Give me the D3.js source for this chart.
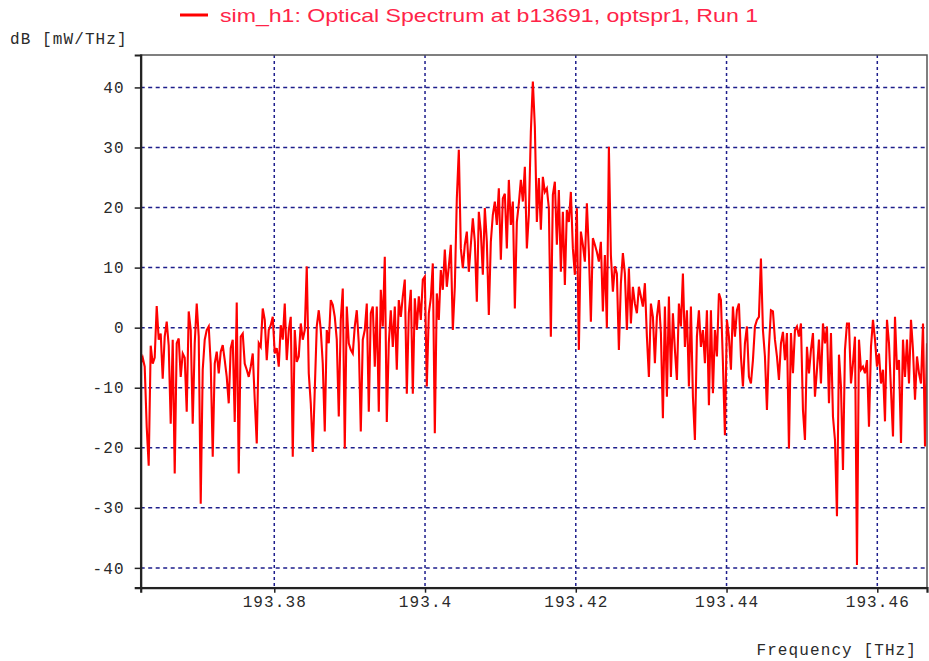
<!DOCTYPE html>
<html>
<head>
<meta charset="utf-8">
<script src="https://cdn.jsdelivr.net/npm/d3@7/dist/d3.min.js"></script>
<style>
  html, body { margin: 0; padding: 0; background: #ffffff; }
  svg { display: block; }
  .tick-label { font-family: "Liberation Mono", "DejaVu Sans Mono", monospace; font-size: 16px; letter-spacing: 1.1px; fill: #2a2a2a; }
</style>
</head>
<body>
<svg id="chart" width="929" height="661"></svg>
<script>
// Spectrum sampling grid (THz): first bin and bin spacing
const freqStart = 193.36228;
const freqStep = 0.00026543;

// Power spectral density per bin, dB [mW/THz]
const powerDb = [
  -6, -5, -6.5, -16.5, -23, -3, -6, -5, 3.6, -2,
  -1, -8.5, -1.5, 1, -3, -16, -2, -24.3, -2.6, -1.8,
  -8.2, -4.3, -5, -14, 2.7, -0.4, -16, -2.6, 4, -1.5,
  -29.3, -7, -2, -0.4, 0.2, -6, -21.5, -6, -4, -7.6,
  -4, -2.9, -5.4, -8.2, -12.6, -3.4, -2, -15.7, 4.2, -24.3,
  -1.5, -1, -6, -7, -8.2, -6.5, -4.3, -12, -19.3, -2.6,
  -3.2, 3.2, 1.3, -5.4, -0.4, 0.4, 1.8, -4.3, -3.4, -6.5,
  0.4, -2, 4, -5.4, -0.4, 1.8, -21.5, -0.4, -5.7,
  -4.8, 0.7, -2, -0.4, 10.2, -7.6, -12.6, -20.7, -10.4, 0.2,
  2.9, -0.4, -6, -17.3, -0.4, -2.6, 4.6, 3.8, 1.8, -2,
  -14.8, 1.3, 6.5, -20.1, 3.5, -2.6, -3.7, -4.3, 0.2, 2.9,
  -2.6, -17.3, -2, -0.4, 4, -14, 2.4, 3.5, -6.5, 3.5,
  -14, 6.3, 0.2, 11.8, -15.7, -2.6, 2.9, -3.2, 3.5, -7,
  4.6, 1.8, 5.2, 8, -11, 2.4, 6.3, -11, 4.9, -0.4,
  5.2, 1.3, 8, 8.5, -9.8, 2.4, 4.9, 10.7, -17.6, 5.7,
  1.3, 9.6, 6.3, 13, 6.8, 10.2, 13.8, -0.4, 6.8,
  21.5, 29.6, 13.2, 9.9, 13.8, 16, 9.3, 13.8, 18.2, 14.3,
  4.3, 19.3, 16, 8.8, 19.9, 14.3, 2.1, 14.3, 18.8, 21,
  17.1, 23.2, 11.3, 21.5, 22.3, 13.2, 24.6, 17.1, 21, 3.2,
  17.6, 20.7, 24.6, 21, 26.8, 13.2, 18.8, 32.6, 41, 33.4,
  17.6, 24.9, 16.3, 25.1, 22.6, 23.2, 19.9, -1.5, 22.1, 24.3,
  13.8, 22.9, 9.3, 19.3, 7.1, 19.6, 17.6, 22.6, 13.2, 8.8,
  19.9, -3.7, 16, 13.8, 11, 20.7, 12.6, 1, 14.9, 13.8,
  12.6, 11, 14.3, 2.7, 12.1, 0, 30.1, 12.1, 6,
  10.2, 9, -3.7, 7.4, 12.4, 9, -0.4, 9.9, 0.7, 6.8,
  4, 2.4, 6.8, 5.2, 3.5, 7.4, -1.5, -8.2, 4, 1.8,
  -5.9, 1.8, 4.6, -0.9, -15.1, 3.5, -11.5, 5.2, -8.2, 2.4,
  -3.7, -8.7, 4, 0.2, 9, -3.2, 2.9, -9.8, 3.5, -11.5,
  -18.7, -1.5, 2.9, -3.2, -0.4, -5.9, 2.9, -12.9, 2.9, -10.9,
  -0.4, -4.8, 5.7, 4.6, -5.9, -17.9, 1.3, -1.5, -7, 3.5,
  -1.5, 2.9, 4, -4.8, -9.8, -2.6, 0.2, -8.2, -9.3, -5.4,
  0.2, 1.3, 1.8, 11.5, -0.4, -4.8, -13.7, -3.2, 2.9,
  2.7, -2, -4.8, -8.7, -2.6, -0.7, -5.4, -0.9, -20.1, -0.9,
  -7.6, -0.4, 0.2, -1.5, 0.7, -13.7, -18.7, -3.2, -7.6, -3.7,
  -0.9, -11.5, -7, -2, -9.3, 0.7, -2.6, 0.2, -12.6, -0.9,
  -14.8, -18.7, -31.4, -4.5, -9.8, -23.7, -3.7, 0.7, 0.7, -9.3,
  -5.9, -1.5, -39.5, -2, -7, -6.5, -7.6, -5.4, -16.5, -3.2,
  1.3, -2, -6.5, -4.3, -9.3, -7, -15.6, 1.3, -2.6, -10.4,
  -18.1, 1.8, -7, -5.4, -19.2, -2, -8.2, -2, -9.3, 1.3,
  -3.7, -12, -4.8, -7.6, -9.3, 0.7, -19.8, -2.6
];

// Axis ticks
const freqTicks = [193.38, 193.40, 193.42, 193.44, 193.46];
const dbTicks = [-40, -30, -20, -10, 0, 10, 20, 30, 40];

const titleText = "sim_h1: Optical Spectrum at b13691, optspr1, Run 1";
const yAxisTitle = "dB [mW/THz]";
const xAxisTitle = "Frequency [THz]";

const plot = { left: 140.7, right: 927, top: 55, bottom: 587.7 };
const gridColor = "#1e1e8c";

const svg = d3.select("#chart");

const points = powerDb.map((v, i) => ({ f: freqStart + i * freqStep, v }));

const x = d3.scaleLinear()
  .domain([freqStart, freqStart + (powerDb.length - 1) * freqStep])
  .range([plot.left, plot.right]);
const y = d3.scaleLinear()
  .domain([-43.3, 45.4])
  .range([plot.bottom, plot.top]);

svg.append("defs").append("clipPath").attr("id", "plot-clip")
  .append("rect")
  .attr("x", plot.left).attr("y", plot.top)
  .attr("width", plot.right - plot.left).attr("height", plot.bottom - plot.top);

// Grid
const grid = svg.append("g");
grid.selectAll("line.h").data(dbTicks).join("line")
  .attr("x1", plot.left).attr("x2", plot.right)
  .attr("y1", d => y(d)).attr("y2", d => y(d))
  .attr("stroke", gridColor).attr("stroke-width", 1.5)
  .attr("stroke-dasharray", "4,3.5");
grid.selectAll("line.v").data(freqTicks).join("line")
  .attr("y1", plot.top).attr("y2", plot.bottom)
  .attr("x1", d => x(d)).attr("x2", d => x(d))
  .attr("stroke", gridColor).attr("stroke-width", 1.5)
  .attr("stroke-dasharray", "3,3");

// Spectrum trace
const line = d3.line().x(d => x(d.f)).y(d => y(d.v));
svg.append("path")
  .datum(points)
  .attr("clip-path", "url(#plot-clip)")
  .attr("fill", "none")
  .attr("stroke", "#ff0000")
  .attr("stroke-width", 2.1)
  .attr("stroke-linejoin", "miter")
  .attr("d", line);

// Frame
svg.append("rect")
  .attr("x", plot.left).attr("y", plot.top)
  .attr("width", plot.right - plot.left).attr("height", plot.bottom - plot.top)
  .attr("fill", "none").attr("stroke", "#555").attr("stroke-width", 1.5);

// Axes
const fmtFreq = d => String(+d.toFixed(2));
const xAxis = d3.axisBottom(x).tickValues(freqTicks).tickFormat(fmtFreq).tickSize(5).tickPadding(3);
const yAxis = d3.axisLeft(y).tickValues(dbTicks).tickFormat(d => String(d)).tickSize(6).tickPadding(10);

const gx = svg.append("g").attr("transform", `translate(0,${plot.bottom})`).call(xAxis);
const gy = svg.append("g").attr("transform", `translate(${plot.left},0)`).call(yAxis);
[gx, gy].forEach(g => {
  g.select(".domain").attr("stroke", "#222").attr("stroke-width", 2.2);
  g.selectAll(".tick line").attr("stroke", "#222").attr("stroke-width", 1.5);
  g.selectAll(".tick text").attr("class", "tick-label").attr("fill", null);
});
gx.selectAll(".tick text").attr("dy", "0.71em");

// Axis titles
svg.append("text").attr("class", "tick-label")
  .attr("x", 10).attr("y", 44).text(yAxisTitle);
svg.append("text").attr("class", "tick-label")
  .attr("x", 917).attr("y", 655).attr("text-anchor", "end").text(xAxisTitle);

// Legend entry / title
svg.append("line")
  .attr("x1", 180).attr("x2", 208).attr("y1", 15).attr("y2", 15)
  .attr("stroke", "#ff0000").attr("stroke-width", 3);
svg.append("text")
  .attr("x", 220).attr("y", 22)
  .attr("font-family", "Liberation Sans, Arial, sans-serif")
  .attr("font-size", 19)
  .attr("fill", "#ff2448")
  .attr("textLength", 538).attr("lengthAdjust", "spacingAndGlyphs")
  .text(titleText);
</script>
</body>
</html>
